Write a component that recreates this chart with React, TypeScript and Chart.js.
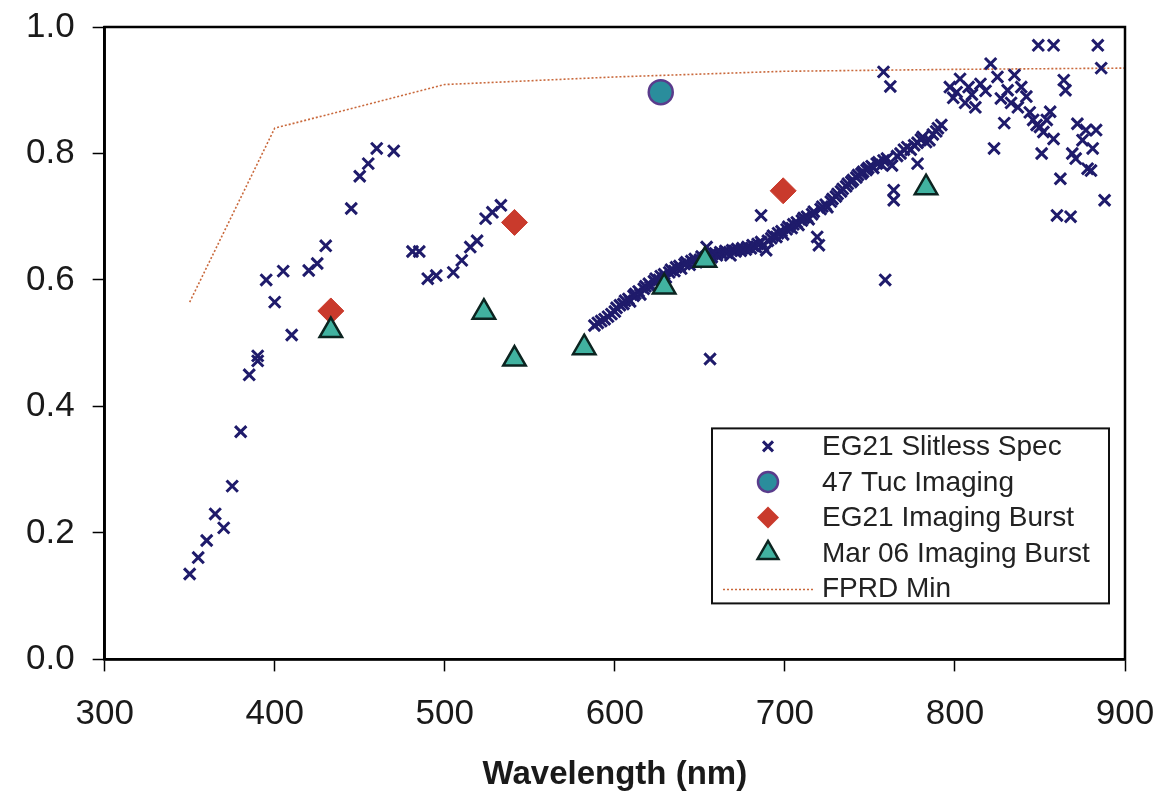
import React, { useEffect, useRef } from 'react';
import { Chart, registerables } from 'chart.js';

Chart.register(...registerables);

// ---- data (wavelength nm, value) ----
const slitlessSpec: [number, number][] = [
  [350, 0.135], [355, 0.161], [360, 0.188], [365, 0.23], [370, 0.208], [375, 0.274], [380, 0.36],
  [385, 0.45], [390, 0.472], [390, 0.48], [395, 0.6], [400, 0.565], [405, 0.614], [410, 0.513],
  [420, 0.615], [425, 0.626], [430, 0.654], [445, 0.713], [450, 0.764], [455, 0.784], [460, 0.808],
  [470, 0.804], [481, 0.645], [485, 0.645], [490, 0.602], [495, 0.607], [505, 0.612], [510, 0.631],
  [515, 0.652], [519, 0.662], [524, 0.697], [528, 0.707], [533, 0.718],
  [588, 0.528], [590, 0.532], [592, 0.535], [594, 0.538], [596, 0.542], [598, 0.546], [600, 0.55],
  [601, 0.556], [603, 0.56], [605, 0.562], [606, 0.567], [608, 0.57], [609, 0.566], [611, 0.575],
  [612, 0.578], [614, 0.582], [615, 0.577], [617, 0.586], [618, 0.59], [620, 0.594], [621, 0.589],
  [623, 0.598], [624, 0.602], [626, 0.6], [627, 0.606], [629, 0.609], [630, 0.604], [632, 0.612],
  [633, 0.616], [635, 0.614], [636, 0.62], [638, 0.622], [639, 0.618], [641, 0.625], [642, 0.628],
  [644, 0.624], [645, 0.63], [647, 0.633], [648, 0.628], [650, 0.632], [651, 0.637], [653, 0.635],
  [654, 0.652], [656, 0.64], [657, 0.636], [659, 0.642], [660, 0.639], [662, 0.644], [663, 0.641],
  [665, 0.646], [666, 0.643], [668, 0.639], [669, 0.647], [671, 0.645], [672, 0.649], [674, 0.646],
  [675, 0.65], [677, 0.648], [678, 0.652], [680, 0.65], [681, 0.655], [683, 0.652], [684, 0.657],
  [686, 0.66], [687, 0.654], [689, 0.647], [690, 0.662], [692, 0.666], [693, 0.67], [695, 0.668],
  [696, 0.674], [698, 0.677], [699, 0.672], [701, 0.68], [702, 0.684], [704, 0.682], [705, 0.688],
  [707, 0.691], [708, 0.687], [710, 0.694], [711, 0.698], [713, 0.7], [714, 0.696], [716, 0.704],
  [717, 0.708], [719, 0.668], [720, 0.655], [721, 0.712], [722, 0.716], [724, 0.719], [725, 0.715],
  [727, 0.724], [728, 0.728], [730, 0.732], [731, 0.736], [733, 0.74], [734, 0.744], [736, 0.748],
  [737, 0.752], [739, 0.755], [740, 0.758], [742, 0.762], [743, 0.766], [745, 0.768], [746, 0.771],
  [748, 0.774], [749, 0.777], [751, 0.78], [752, 0.777], [754, 0.784], [755, 0.786], [757, 0.782],
  [758, 0.789], [760, 0.792], [763, 0.781], [764, 0.742], [764, 0.726], [766, 0.796], [768, 0.8],
  [770, 0.806], [772, 0.81], [774, 0.806], [776, 0.813], [778, 0.817], [778, 0.784], [780, 0.822],
  [781, 0.826], [783, 0.818], [785, 0.821], [787, 0.83], [789, 0.835], [790, 0.84], [792, 0.845],
  [656, 0.475], [686, 0.702], [758, 0.929], [762, 0.906], [759, 0.6],
  [797, 0.905], [799, 0.888], [801, 0.897], [803, 0.918], [806, 0.88], [808, 0.905], [810, 0.893],
  [812, 0.873], [815, 0.91], [818, 0.899], [821, 0.942], [823, 0.808], [825, 0.921], [827, 0.887],
  [829, 0.848], [831, 0.9], [833, 0.88], [835, 0.924], [837, 0.873], [839, 0.905], [842, 0.89],
  [844, 0.865], [846, 0.853], [848, 0.845], [850, 0.842], [851, 0.8], [852, 0.834], [854, 0.853],
  [856, 0.866], [858, 0.823], [849, 0.971], [858, 0.971], [862, 0.76], [864, 0.916], [865, 0.9],
  [860, 0.702], [868, 0.7], [869, 0.8], [871, 0.792], [872, 0.847], [875, 0.821], [877, 0.837],
  [878, 0.776], [880, 0.773], [881, 0.808], [883, 0.837], [884, 0.971], [886, 0.935], [888, 0.726],
];

const tucImaging: [number, number][] = [[627, 0.897]];

const eg21Burst: [number, number][] = [[433, 0.551], [541, 0.691], [699, 0.741]];

const mar06Burst: [number, number][] = [
  [433, 0.52], [523, 0.549], [541, 0.475], [582, 0.493], [629, 0.589], [653, 0.631], [783, 0.746],
];

const fprdMin: [number, number][] = [
  [350, 0.565], [400, 0.84], [500, 0.909], [600, 0.921], [700, 0.93], [800, 0.933], [900, 0.935],
];

const seriesNames = [
  'EG21 Slitless Spec',
  '47 Tuc Imaging',
  'EG21 Imaging Burst',
  'Mar 06 Imaging Burst',
  'FPRD Min',
];

const xTicks = [300, 400, 500, 600, 700, 800, 900];
const yTicks = [0, 0.2, 0.4, 0.6, 0.8, 1.0];

const FONT = "'Liberation Sans', Arial, Helvetica, sans-serif";

const toPts = (arr: [number, number][]) => arr.map(([x, y]) => ({ x, y }));

const COLORS = {
  cross: '#1f1b6b',
  circleFill: '#2a8d9c',
  circleEdge: '#5a3c8c',
  diamond: '#c93a2c',
  triFill: '#41b2a0',
  triEdge: '#0c2420',
  line: '#c9693c',
};

function drawMarker(ctx: CanvasRenderingContext2D, kind: number, x: number, y: number) {
  ctx.save();
  if (kind === 0) {
    const r = 5;
    ctx.strokeStyle = COLORS.cross;
    ctx.lineWidth = 3;
    ctx.beginPath();
    ctx.moveTo(x - r, y - r); ctx.lineTo(x + r, y + r);
    ctx.moveTo(x + r, y - r); ctx.lineTo(x - r, y + r);
    ctx.stroke();
  } else if (kind === 1) {
    ctx.fillStyle = COLORS.circleFill;
    ctx.strokeStyle = COLORS.circleEdge;
    ctx.lineWidth = 2.5;
    ctx.beginPath(); ctx.arc(x, y, 10, 0, Math.PI * 2); ctx.fill(); ctx.stroke();
  } else if (kind === 2) {
    const r = 11;
    ctx.fillStyle = COLORS.diamond;
    ctx.beginPath();
    ctx.moveTo(x, y - r); ctx.lineTo(x + r, y); ctx.lineTo(x, y + r); ctx.lineTo(x - r, y);
    ctx.closePath(); ctx.fill();
  } else if (kind === 3) {
    const r = 12;
    ctx.fillStyle = COLORS.triFill;
    ctx.strokeStyle = COLORS.triEdge;
    ctx.lineWidth = 2.5;
    ctx.beginPath();
    ctx.moveTo(x, y - r);
    ctx.lineTo(x + r * Math.sin(2 * Math.PI / 3), y - r * Math.cos(2 * Math.PI / 3));
    ctx.lineTo(x + r * Math.sin(4 * Math.PI / 3), y - r * Math.cos(4 * Math.PI / 3));
    ctx.closePath(); ctx.fill(); ctx.stroke();
  }
  ctx.restore();
}

const framePlugin = {
  id: 'frameAndLegend',
  afterDraw(chart: any) {
    const { ctx, chartArea } = chart;
    const { left, right, top, bottom } = chartArea;
    ctx.save();
    ctx.strokeStyle = '#000';
    ctx.lineWidth = 2.5;
    ctx.strokeRect(left, top, right - left, bottom - top);

    // legend box
    const bw = 397, bh = 175;
    const bx = right - 16 - bw;
    const by = bottom - 56 - bh;
    ctx.fillStyle = '#fff';
    ctx.fillRect(bx, by, bw, bh);
    ctx.lineWidth = 2;
    ctx.strokeStyle = '#111';
    ctx.strokeRect(bx, by, bw, bh);

    ctx.font = `28px ${FONT}`;
    ctx.textBaseline = 'middle';
    ctx.textAlign = 'left';
    seriesNames.forEach((name, i) => {
      const cy = by + 18 + i * 35.5;
      const mx = bx + 56;
      if (i < 4) {
        drawMarker(ctx, i, mx, cy);
      } else {
        ctx.save();
        ctx.strokeStyle = COLORS.line;
        ctx.lineWidth = 1.5;
        ctx.setLineDash([2, 2]);
        ctx.beginPath();
        ctx.moveTo(bx + 11, cy + 1);
        ctx.lineTo(bx + 103, cy + 1);
        ctx.stroke();
        ctx.restore();
      }
      ctx.fillStyle = '#222';
      ctx.fillText(name, bx + 110, cy + 1);
    });
    ctx.restore();
  },
};

export default function App() {
  const canvasRef = useRef<HTMLCanvasElement | null>(null);

  useEffect(() => {
    const canvas = canvasRef.current;
    if (!canvas) return;
    const chart = new Chart(canvas, {
      type: 'scatter',
      data: {
        datasets: [
          {
            type: 'line',
            label: seriesNames[4],
            data: toPts(fprdMin),
            showLine: true,
            borderColor: COLORS.line,
            borderWidth: 1.6,
            borderDash: [2, 2],
            pointRadius: 0,
            fill: false,
            tension: 0,
            order: 5,
          } as any,
          {
            label: seriesNames[0],
            data: toPts(slitlessSpec),
            pointStyle: 'crossRot',
            pointRadius: 8,
            borderWidth: 3,
            borderColor: COLORS.cross,
            backgroundColor: COLORS.cross,
            order: 4,
          },
          {
            label: seriesNames[1],
            data: toPts(tucImaging),
            pointStyle: 'circle',
            pointRadius: 12,
            borderWidth: 2.5,
            borderColor: COLORS.circleEdge,
            backgroundColor: COLORS.circleFill,
            order: 3,
          },
          {
            label: seriesNames[2],
            data: toPts(eg21Burst),
            pointStyle: 'rectRot',
            pointRadius: 13,
            borderWidth: 1,
            borderColor: COLORS.diamond,
            backgroundColor: COLORS.diamond,
            order: 2,
          },
          {
            label: seriesNames[3],
            data: toPts(mar06Burst),
            pointStyle: 'triangle',
            pointRadius: 13,
            borderWidth: 2.5,
            borderColor: COLORS.triEdge,
            backgroundColor: COLORS.triFill,
            order: 1,
          },
        ],
      },
      options: {
        responsive: false,
        animation: false,
        maintainAspectRatio: false,
        layout: { padding: { left: 8, right: 44, top: 27, bottom: 0 } },
        plugins: {
          legend: { display: false },
          tooltip: { enabled: false },
          title: { display: false },
        },
        scales: {
          x: {
            type: 'linear',
            min: 300,
            max: 900,
            afterBuildTicks: (axis: any) => {
              axis.ticks = xTicks.map((v) => ({ value: v }));
            },
            afterFit: (axis: any) => {
              axis.paddingLeft = 0;
              axis.paddingRight = 0;
            },
            ticks: {
              font: { family: FONT, size: 35 },
              color: '#1a1a1a',
              padding: 22,
              callback: (v: any) => String(v),
            },
            grid: {
              drawOnChartArea: false,
              drawTicks: true,
              tickLength: 12,
              tickColor: '#000',
              tickWidth: 1.5,
            },
            border: { display: true, color: '#000', width: 2.5 },
            title: {
              display: true,
              text: 'Wavelength (nm)',
              font: { family: FONT, size: 33, weight: 'bold' },
              color: '#1a1a1a',
              padding: { top: -2, bottom: 0 },
            },
          },
          y: {
            type: 'linear',
            min: 0,
            max: 1,
            afterBuildTicks: (axis: any) => {
              axis.ticks = yTicks.map((v) => ({ value: v }));
            },
            afterFit: (axis: any) => {
              axis.paddingTop = 0;
              axis.paddingBottom = 0;
            },
            ticks: {
              font: { family: FONT, size: 35 },
              color: '#1a1a1a',
              padding: 18,
              callback: (v: any) => Number(v).toFixed(1),
            },
            grid: {
              drawOnChartArea: false,
              drawTicks: true,
              tickLength: 12,
              tickColor: '#000',
              tickWidth: 1.5,
            },
            border: { display: true, color: '#000', width: 2.5 },
          },
        },
      },
      plugins: [framePlugin],
    });
    return () => chart.destroy();
  }, []);

  return (
    <div style={{ position: 'fixed', left: 0, top: 0, width: 1169, height: 795, background: '#fff' }}>
      <canvas ref={canvasRef} width={1169} height={795} style={{ display: 'block' }} />
    </div>
  );
}
